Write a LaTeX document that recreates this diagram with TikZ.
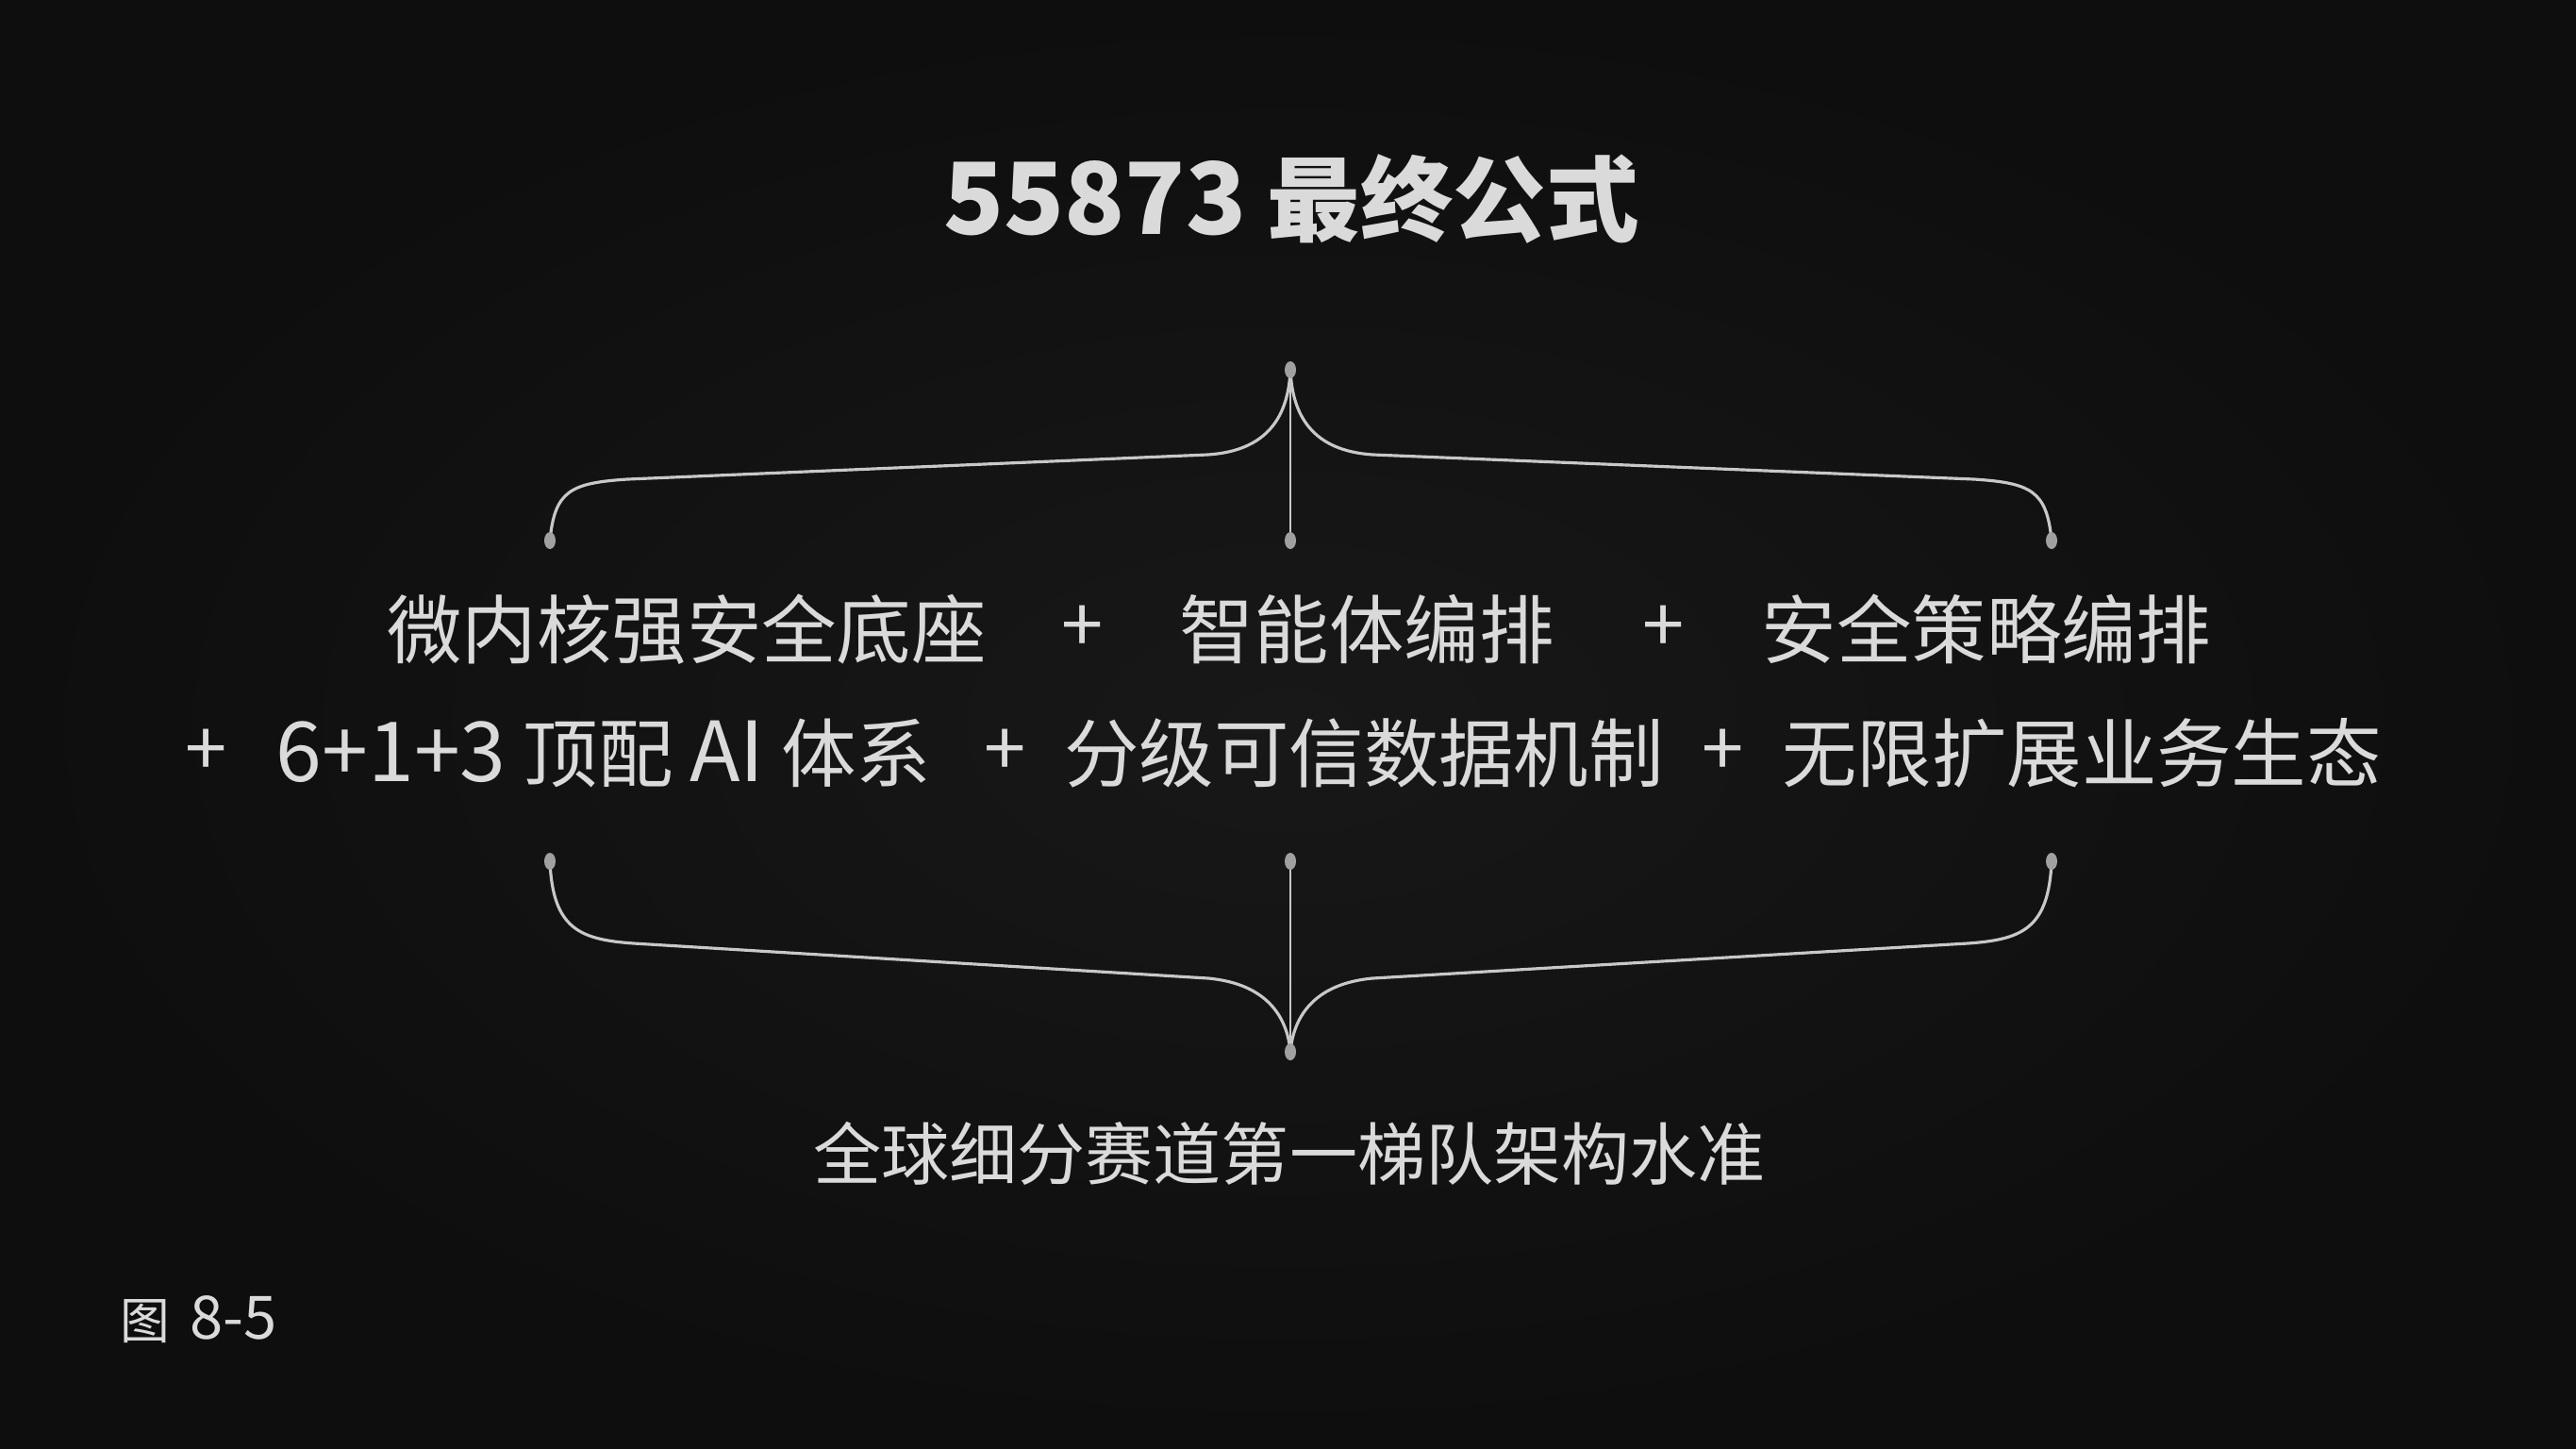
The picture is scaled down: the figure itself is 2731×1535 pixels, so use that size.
\documentclass[tikz,border=0pt]{standalone}
\usepackage{fontspec}
\setmainfont{Noto Sans CJK SC}
\usepackage{tikz}
\usetikzlibrary{positioning,calc}
\definecolor{fond}{RGB}{14,14,14}
\definecolor{fondc}{RGB}{24,24,24}
\definecolor{argent}{RGB}{218,218,218}
\definecolor{trait}{RGB}{200,200,200}
\definecolor{pt}{RGB}{160,160,160}
\newcommand{\lat}[2]{{\fontsize{#1}{#1}\selectfont #2}}

\begin{document}
\begin{tikzpicture}[x=0.01cm,y=-0.01cm,
  txt/.style={text=argent,inner sep=0pt},
  plus/.style={txt,font=\fontsize{22.6}{26}\selectfont},
  ligne/.style={txt,font=\fontsize{22.6}{26}\selectfont},
  accol/.style={draw=trait,line width=0.9pt},
  pointe/.style={fill=pt,draw=none}]
\shade[inner color=fondc,outer color=fond](0,0)rectangle(2731,1535);
\useasboundingbox(0,0)rectangle(2731,1535);
% titre
\node[txt,font=\fontsize{28}{32}\bfseries\selectfont](titre)at(1369,211){\lat{30}{55873} 最终公式};
% accolade du haut
\coordinate(hG)at(583,573);
\coordinate(hC)at(1368,392);
\coordinate(hD)at(2175,573);
\coordinate(hB)at(1368,573);
\draw[accol](hG).. controls (588,520) and (605,512) .. (665,508)--(1280,482)
  .. controls (1345,478) and (1366,440) .. (hC);
\draw[accol](hD).. controls (2170,520) and (2153,512) .. (2093,508)--(1456,482)
  .. controls (1391,478) and (1370,440) .. (hC);
\draw[accol,line width=0.6pt](hC)--(hB);
\foreach \p in {hG,hC,hD,hB}\fill[pointe](\p)ellipse(6 and 9);
% ligne 1
\node[ligne](socle)at(728,667){微内核强安全底座};
\node[plus](p1)at(1148,667){+};
\node[ligne](agent)at(1449,667){智能体编排};
\node[plus](p2)at(1764,667){+};
\node[ligne](strat)at(2106,667){安全策略编排};
% ligne 2
\node[plus](p3)at(219,798){+};
\node[ligne](ia)at(640,798){\lat{25}{6+1+3} 顶配 \lat{25}{AI} 体系};
\node[plus](p4)at(1066,798){+};
\node[ligne](donnees)at(1446,798){分级可信数据机制};
\node[plus](p5)at(1827,798){+};
\node[ligne](eco)at(2207,798){无限扩展业务生态};
% accolade du bas
\coordinate(bG)at(583,913);
\coordinate(bC)at(1368,913);
\coordinate(bD)at(2175,913);
\coordinate(bB)at(1368,1115);
\draw[accol](bG).. controls (586,985) and (615,996) .. (672,1000)--(1281,1037)
  .. controls (1345,1043) and (1365,1080) .. (bB);
\draw[accol](bD).. controls (2172,985) and (2143,996) .. (2086,1000)--(1455,1037)
  .. controls (1391,1043) and (1371,1080) .. (bB);
\draw[accol,line width=0.6pt](bC)--(bB);
\foreach \p in {bG,bC,bD,bB}\fill[pointe](\p)ellipse(6 and 9);
% resultat
\node[txt,font=\fontsize{20.5}{24}\selectfont](niveau)at(1367,1223){全球细分赛道第一梯队架构水准};
\node[txt,anchor=west,font=\fontsize{15}{18}\selectfont](fig)at(127,1399){图\, \lat{18}{8-5}};
\end{tikzpicture}
\end{document}
